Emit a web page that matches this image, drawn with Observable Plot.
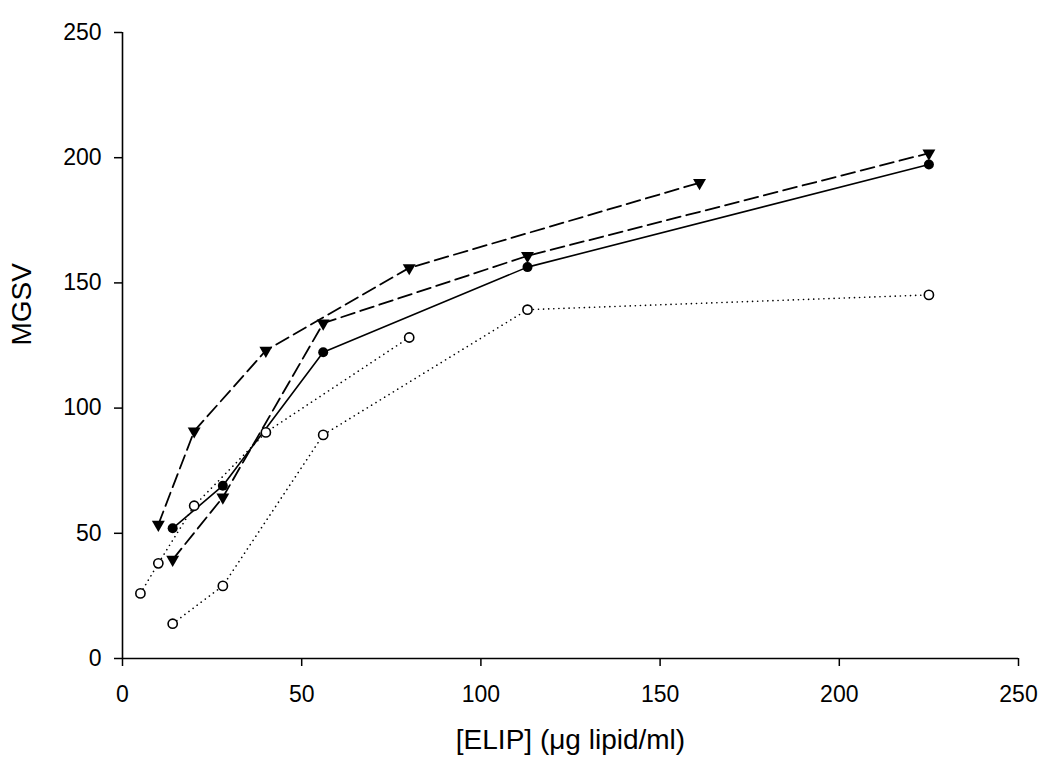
<!DOCTYPE html>
<html>
<head>
<meta charset="utf-8">
<script src="https://cdn.jsdelivr.net/npm/d3@7"></script>
<script src="https://cdn.jsdelivr.net/npm/@observablehq/plot@0.6"></script>
<style>
  html, body { margin: 0; padding: 0; background: #fff; }
  svg { display: block; }
</style>
</head>
<body>
<div id="chart"></div>
<script>
// Data
const solidX = [14, 28, 56, 113, 225];
const solidY = [52, 69, 122.3, 156.3, 197.3];

const dashAX = [10, 20, 40, 80, 161];
const dashAY = [53.5, 90.8, 123, 156, 190];

const dashBX = [14, 28, 56, 113, 225];
const dashBY = [39.5, 64.4, 133.9, 160.8, 201.8];

const dotAX = [5, 10, 20, 40, 80];
const dotAY = [26, 38, 61, 90.3, 128.2];

const dotBX = [14, 28, 56, 113, 225];
const dotBY = [13.9, 29, 89.3, 139.3, 145.2];

const xTicks = [0, 50, 100, 150, 200, 250];
const yTicks = [0, 50, 100, 150, 200, 250];

const xTitle = "[ELIP] (\u03BCg lipid/ml)";
const yTitle = "MGSV";

const toRows = (xs, ys) => xs.map((x, i) => ({x, y: ys[i]}));
const solid = toRows(solidX, solidY);
const dashA = toRows(dashAX, dashAY);
const dashB = toRows(dashBX, dashBY);
const dotA = toRows(dotAX, dotAY);
const dotB = toRows(dotBX, dotBY);

const font = "'Liberation Sans', Arial, sans-serif";

const chart = Plot.plot({
  width: 1050,
  height: 771,
  marginLeft: 122,
  marginRight: 32,
  marginTop: 32,
  marginBottom: 113,
  style: {fontFamily: font, background: "#fff", color: "#000"},
  x: {domain: [0, 250]},
  y: {domain: [0, 250]},
  marks: [
    Plot.axisX({ticks: xTicks, tickSize: 8, tickPadding: 19, fontSize: 23, label: null, stroke: "#000", strokeWidth: 1.5}),
    Plot.axisY({ticks: yTicks, tickSize: 8, tickPadding: 13, fontSize: 23, label: null, stroke: "#000", strokeWidth: 1.5}),
    Plot.ruleX([0], {stroke: "#000", strokeWidth: 1.6}),
    Plot.ruleY([0], {stroke: "#000", strokeWidth: 1.6}),
    // lines
    Plot.line(dotA, {x: "x", y: "y", stroke: "#000", strokeWidth: 1.6, strokeDasharray: "0.1,5", strokeLinecap: "round"}),
    Plot.line(dotB, {x: "x", y: "y", stroke: "#000", strokeWidth: 1.6, strokeDasharray: "0.1,5", strokeLinecap: "round"}),
    Plot.line(dashA, {x: "x", y: "y", stroke: "#000", strokeWidth: 1.8, strokeDasharray: "14,6"}),
    Plot.line(dashB, {x: "x", y: "y", stroke: "#000", strokeWidth: 1.8, strokeDasharray: "14,6"}),
    Plot.line(solid, {x: "x", y: "y", stroke: "#000", strokeWidth: 1.6}),
    // markers
    Plot.dot(dotA, {x: "x", y: "y", r: 4.6, fill: "#fff", stroke: "#000", strokeWidth: 1.6}),
    Plot.dot(dotB, {x: "x", y: "y", r: 4.6, fill: "#fff", stroke: "#000", strokeWidth: 1.6}),
    Plot.dot(dashA, {x: "x", y: "y", r: 4.8, symbol: "triangle", rotate: 180, fill: "#000", stroke: "none"}),
    Plot.dot(dashB, {x: "x", y: "y", r: 4.8, symbol: "triangle", rotate: 180, fill: "#000", stroke: "none"}),
    Plot.dot(solid, {x: "x", y: "y", r: 5, fill: "#000", stroke: "none"}),
    // titles
    Plot.text([yTitle], {frameAnchor: "left", dx: -100, rotate: -90, fontSize: 28, fill: "#000", text: d => d}),
    Plot.text([xTitle], {frameAnchor: "bottom", dy: 90, fontSize: 28, fill: "#000", text: d => d})
  ]
});

document.getElementById("chart").appendChild(chart);
</script>
</body>
</html>
